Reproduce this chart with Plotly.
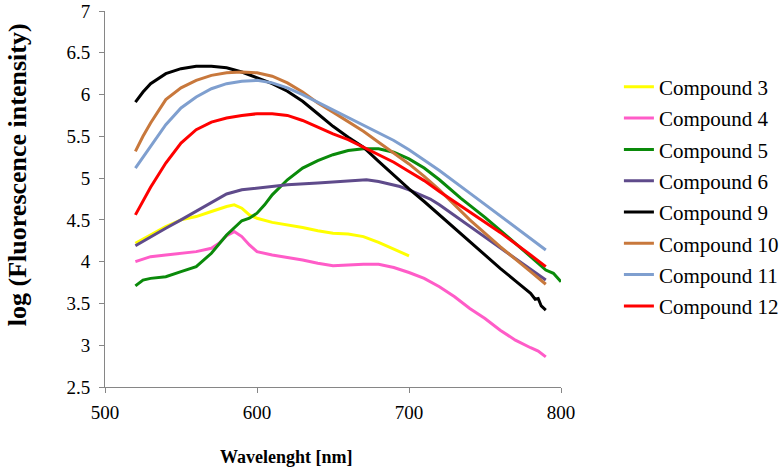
import plotly.graph_objects as go

# ---- data ----
names = ["Compound 3", "Compound 4", "Compound 5", "Compound 6",
         "Compound 9", "Compound 10", "Compound 11", "Compound 12"]

wl_c3 = [520, 530, 540, 550, 560, 570, 580, 585, 590, 595, 600, 610, 620, 630, 640, 650, 660, 670, 680, 690, 700]
c3 = [4.22, 4.32, 4.42, 4.50, 4.54, 4.60, 4.66, 4.68, 4.64, 4.56, 4.52, 4.47, 4.44, 4.41, 4.37, 4.34, 4.33, 4.30, 4.23, 4.15, 4.07]

wl_c4 = [520, 530, 540, 550, 560, 570, 575, 580, 585, 590, 595, 600, 610, 620, 630, 640, 650, 660, 670, 680,
         690, 700, 710, 720, 730, 740, 750, 760, 770, 780, 785, 790]
c4 = [4.00, 4.06, 4.08, 4.10, 4.12, 4.16, 4.22, 4.31, 4.36, 4.30, 4.20, 4.12, 4.08, 4.05, 4.02, 3.98, 3.95, 3.96, 3.97, 3.97,
      3.93, 3.87, 3.80, 3.70, 3.58, 3.44, 3.32, 3.18, 3.06, 2.97, 2.93, 2.86]

wl_c5 = [520, 525, 530, 540, 550, 560, 570, 580, 590, 595, 600, 605, 610, 620, 630, 640, 650, 660, 670, 680,
         690, 700, 710, 720, 734, 750, 770, 780, 790, 795, 800]
c5 = [3.71, 3.78, 3.80, 3.82, 3.88, 3.94, 4.10, 4.32, 4.49, 4.52, 4.58, 4.68, 4.80, 4.98, 5.12, 5.21, 5.28, 5.33, 5.35, 5.35,
      5.31, 5.23, 5.12, 4.98, 4.76, 4.53, 4.22, 4.06, 3.90, 3.86, 3.76]

wl_c6 = [520, 530, 540, 550, 560, 570, 580, 590, 600, 620, 640, 660, 672, 680, 694, 700, 714, 720, 740, 760, 780, 790]
c6 = [4.19, 4.30, 4.40, 4.50, 4.60, 4.70, 4.81, 4.86, 4.88, 4.92, 4.94, 4.96, 4.98, 4.96, 4.90, 4.86, 4.75, 4.68, 4.42, 4.16, 3.91, 3.78]

wl_c9 = [520, 525, 530, 540, 550, 560, 570, 580, 590, 600, 610, 620, 630, 640, 650, 660, 670, 680, 690, 700,
         710, 720, 730, 740, 750, 760, 770, 780, 783, 785, 787, 790]
c9 = [5.91, 6.03, 6.13, 6.25, 6.31, 6.34, 6.34, 6.32, 6.27, 6.20, 6.13, 6.04, 5.92, 5.77, 5.62, 5.49, 5.37, 5.20, 5.03, 4.87,
      4.72, 4.56, 4.40, 4.24, 4.07, 3.92, 3.77, 3.62, 3.55, 3.56, 3.47, 3.42]

wl_c10 = [520, 525, 530, 540, 550, 560, 570, 580, 590, 600, 610, 620, 630, 640, 650, 660, 670, 680, 690, 700,
          710, 720, 740, 760, 780, 790]
c10 = [5.32, 5.50, 5.66, 5.94, 6.08, 6.17, 6.23, 6.26, 6.27, 6.26, 6.22, 6.14, 6.03, 5.90, 5.79, 5.68, 5.56, 5.43, 5.30, 5.17,
       5.02, 4.86, 4.50, 4.18, 3.88, 3.73]

wl_c11 = [520, 525, 530, 540, 550, 560, 570, 580, 590, 600, 610, 620, 630, 640, 650, 660, 670, 680, 690, 700,
          710, 720, 740, 760, 780, 790]
c11 = [5.12, 5.25, 5.37, 5.64, 5.84, 5.97, 6.07, 6.13, 6.16, 6.17, 6.14, 6.08, 6.00, 5.91, 5.82, 5.73, 5.64, 5.55, 5.45, 5.34,
       5.22, 5.09, 4.82, 4.55, 4.28, 4.14]

wl_c12 = [520, 530, 540, 550, 560, 570, 580, 590, 600, 610, 620, 630, 640, 650, 660, 670, 680, 690, 700, 710,
          720, 740, 760, 780, 790]
c12 = [4.56, 4.89, 5.18, 5.42, 5.58, 5.67, 5.72, 5.75, 5.77, 5.77, 5.75, 5.69, 5.61, 5.53, 5.46, 5.37, 5.28, 5.19, 5.08, 4.97,
       4.84, 4.60, 4.35, 4.08, 3.94]

x_ticks = [500, 600, 700, 800]
y_ticks = [2.5, 3, 3.5, 4, 4.5, 5, 5.5, 6, 6.5, 7]
y_tick_text = ["2.5", "3", "3.5", "4", "4.5", "5", "5.5", "6", "6.5", "7"]

colors = ["#FFFF00", "#FF5CC8", "#0A8A0A", "#5F4B8B",
          "#000000", "#C8783C", "#7F9FCF", "#FF0000"]

series_x = [wl_c3, wl_c4, wl_c5, wl_c6, wl_c9, wl_c10, wl_c11, wl_c12]
series_y = [c3, c4, c5, c6, c9, c10, c11, c12]

FONT = "Liberation Serif, Times New Roman, serif"

fig = go.Figure()
for i, (nm, xs, ys, col) in enumerate(zip(names, series_x, series_y, colors)):
    fig.add_trace(go.Scatter(x=xs, y=ys, mode="lines", name=nm,
                             line=dict(color=col, width=3),
                             legendgroup="g%d" % i))

axis_common = dict(showline=True, linecolor="#868686", linewidth=1,
                   ticks="outside", ticklen=5, tickcolor="#868686",
                   showgrid=False, zeroline=False, automargin=False,
                   tickfont=dict(family=FONT, size=19, color="#000000"))

fig.update_layout(
    width=784, height=472,
    font=dict(family=FONT, size=19, color="#000000"),
    margin=dict(l=105, r=223, t=11, b=85, autoexpand=False),
    paper_bgcolor="white", plot_bgcolor="white",
    xaxis=dict(range=[500, 800], tickvals=x_ticks, ticklabelstandoff=3, **axis_common),
    yaxis=dict(range=[2.5, 7], tickvals=y_ticks, ticktext=y_tick_text, ticklabelstandoff=5, **axis_common),
    legend=dict(x=1.127, xanchor="left", y=0.852, yanchor="top",
                font=dict(family=FONT, size=21, color="#000000"),
                tracegroupgap=1, bgcolor="rgba(0,0,0,0)"),
    showlegend=True,
    annotations=[
        dict(text="<b>Wavelenght [nm]</b>", xref="paper", yref="paper",
             x=0.399, y=-0.186, xanchor="center", yanchor="middle", showarrow=False,
             font=dict(family=FONT, size=18, color="#000000")),
        dict(text="<b>log (Fluorescence intensity)</b>", xref="paper", yref="paper",
             x=-0.193, y=0.566, xanchor="center", yanchor="middle", showarrow=False,
             textangle=-90,
             font=dict(family=FONT, size=26, color="#000000")),
    ],
)

# remove the page's default body margin so the figure sits at the window corner
fig.write_html(
    "out.html",
    config={"displayModeBar": False, "responsive": False},
    post_script="document.body.style.margin='0px';document.body.style.overflow='hidden';",
)
